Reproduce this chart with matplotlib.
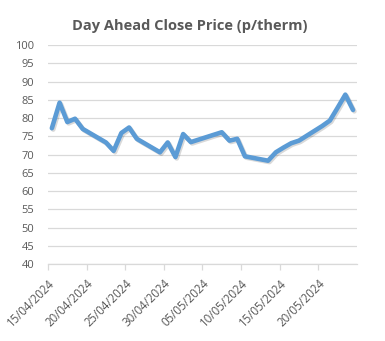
import numpy as np
import pandas as pd
import matplotlib
matplotlib.use("Agg")
import matplotlib.pyplot as plt
import matplotlib.dates as mdates
import matplotlib.patheffects as pe

# --- Day ahead close prices (p/therm), trading days only ---
dates = ["15/04/2024", "16/04/2024", "17/04/2024", "18/04/2024", "19/04/2024",
         "22/04/2024", "23/04/2024", "24/04/2024", "25/04/2024", "26/04/2024",
         "29/04/2024", "30/04/2024", "01/05/2024", "02/05/2024", "03/05/2024",
         "07/05/2024", "08/05/2024", "09/05/2024", "10/05/2024",
         "13/05/2024", "14/05/2024", "15/05/2024", "16/05/2024", "17/05/2024",
         "20/05/2024", "21/05/2024", "22/05/2024", "23/05/2024", "24/05/2024"]
prices = [77.2, 84.2, 78.9, 79.8, 77.0,
          73.3, 71.0, 75.9, 77.4, 74.3,
          70.6, 73.3, 69.3, 75.6, 73.4,
          76.1, 73.8, 74.3, 69.5,
          68.3, 70.6, 71.9, 73.1, 73.8,
          77.8, 79.3, 82.8, 86.4, 82.2]

tick_dates = pd.date_range("2024-04-15", "2024-05-20", freq="5D")

df = pd.DataFrame({"date": pd.to_datetime(dates, dayfirst=True), "price": prices})
# points sit in the middle of each day slot
x = df["date"] + pd.Timedelta(hours=12)

plt.rcParams["font.family"] = ["Open Sans", "DejaVu Sans"]
grey = "#595959"

fig = plt.figure(figsize=(3.85, 3.41), dpi=100)
ax = fig.add_axes([0.1247, 0.2258, 0.8023, 0.6422])

ax.plot(x, df["price"], color="#5B9BD5", lw=3.3, solid_joinstyle="round",
        solid_capstyle="round", zorder=3,
        path_effects=[pe.SimpleLineShadow(offset=(1.0, -1.0), shadow_color="#000000", alpha=0.15),
                      pe.Normal()])

ax.set_xlim(pd.Timestamp("2024-04-15"), pd.Timestamp("2024-05-25"))
ax.set_ylim(40, 100)
ax.set_yticks(np.arange(40, 101, 5))
ax.set_xticks(tick_dates)
ax.xaxis.set_major_formatter(mdates.DateFormatter("%d/%m/%Y"))

ax.grid(axis="y", color="#D9D9D9", lw=0.9)
ax.set_axisbelow(True)
for s in ["top", "right", "left"]:
    ax.spines[s].set_visible(False)
ax.spines["bottom"].set_color("#D9D9D9")
ax.spines["bottom"].set_linewidth(0.9)

ax.tick_params(axis="y", length=0, pad=10, labelsize=8, labelcolor=grey)
ax.tick_params(axis="x", length=4, width=0.9, color="#D9D9D9", pad=5,
               labelsize=8.3, labelcolor=grey)
plt.setp(ax.get_xticklabels(), rotation=45, ha="right", rotation_mode="anchor")

fig.text(0.494, 0.925, "Day Ahead Close Price (p/therm)", fontsize=10.5,
         fontweight="bold", color=grey, ha="center", va="center")

fig.savefig("out.png", dpi=100)
